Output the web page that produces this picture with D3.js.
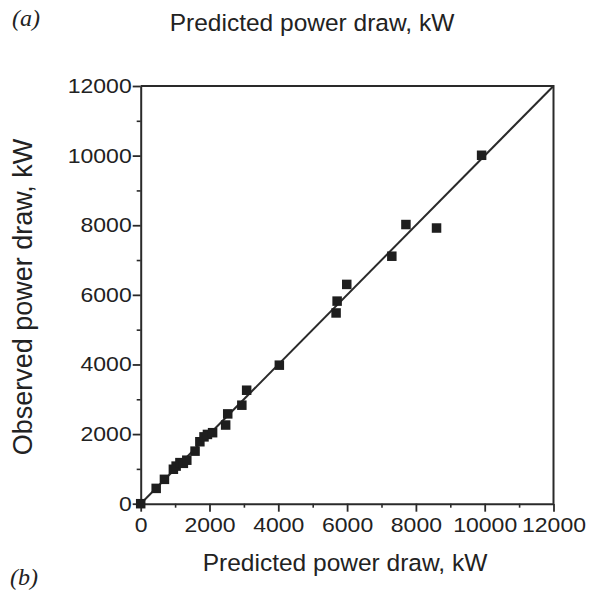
<!DOCTYPE html>
<html>
<head>
<meta charset="utf-8">
<script src="https://cdn.jsdelivr.net/npm/d3@7"></script>
<style>
  html, body { margin: 0; padding: 0; background: #fff; }
  svg { display: block; }
  text { font-family: "Liberation Sans", Arial, Helvetica, sans-serif; fill: #222; }
</style>
</head>
<body>
<svg id="chart" width="590" height="592"></svg>
<script>
// ---- data ----
const predicted = [0, 450, 690, 950, 1030, 1140, 1240, 1340, 1580, 1720, 1840, 1940, 2090, 2470, 2530, 2940, 3080, 4030, 5680, 5710, 5990, 7300, 7710, 8600, 9910];
const observed  = [0, 440, 700, 990, 1080, 1180, 1160, 1250, 1510, 1780, 1920, 1990, 2040, 2260, 2580, 2830, 3260, 3980, 5480, 5820, 6300, 7110, 8020, 7920, 10010];
const majorTicks = [0, 2000, 4000, 6000, 8000, 10000, 12000];
const minorTicks = [1000, 3000, 5000, 7000, 9000, 11000];
const xTitle = "Predicted power draw, kW";
const yTitle = "Observed power draw, kW";
const domainMax = 12000;

// ---- layout ----
const svg = d3.select("#chart");
const mLeft = 140.7, mTop = 86, mRight = 553.5, mBottom = 503.7;
const x = d3.scaleLinear().domain([0, domainMax]).range([mLeft, mRight]);
const y = d3.scaleLinear().domain([0, domainMax]).range([mBottom, mTop]);
const ink = "#2a2a2a";

// frame (top & right)
svg.append("path")
  .attr("d", `M${x(0)},${y(domainMax)}H${x(domainMax)}V${y(0)}`)
  .attr("fill", "none").attr("stroke", ink).attr("stroke-width", 2);

// minor ticks
svg.append("g").attr("transform", `translate(0,${mBottom})`)
  .call(d3.axisBottom(x).tickValues(minorTicks).tickSize(4).tickFormat(""))
  .call(g => g.select(".domain").remove())
  .call(g => g.selectAll("line").attr("stroke", ink).attr("stroke-width", 1.6));
svg.append("g").attr("transform", `translate(${mLeft},0)`)
  .call(d3.axisLeft(y).tickValues(minorTicks).tickSize(4).tickFormat(""))
  .call(g => g.select(".domain").remove())
  .call(g => g.selectAll("line").attr("stroke", ink).attr("stroke-width", 1.6));

// major axes
const xAxis = svg.append("g").attr("transform", `translate(0,${mBottom})`)
  .call(d3.axisBottom(x).tickValues(majorTicks).tickSize(8).tickSizeOuter(0).tickPadding(6).tickFormat(d3.format("d")));
const yAxis = svg.append("g").attr("transform", `translate(${mLeft},0)`)
  .call(d3.axisLeft(y).tickValues(majorTicks).tickSize(8).tickSizeOuter(0).tickPadding(1).tickFormat(d3.format("d")));

[xAxis, yAxis].forEach(g => {
  g.select(".domain").attr("stroke", ink).attr("stroke-width", 2);
  g.selectAll(".tick line").attr("stroke", ink).attr("stroke-width", 1.8);
  g.selectAll(".tick text").attr("font-size", 20).attr("fill", "#222")
    .style("font-family", "'Liberation Sans', Arial, sans-serif");
});
xAxis.selectAll(".tick text").attr("transform", "scale(1.15,1)");
yAxis.selectAll(".tick text").attr("x", 0).attr("transform", "translate(-9,0) scale(1.15,1)");

// identity line
svg.append("line")
  .attr("x1", x(0)).attr("y1", y(0))
  .attr("x2", x(domainMax)).attr("y2", y(domainMax))
  .attr("stroke", ink).attr("stroke-width", 2);

// points
const s = 9.5;
svg.append("g").selectAll("rect")
  .data(predicted.map((p, i) => [p, observed[i]]))
  .join("rect")
  .attr("x", d => x(d[0]) - s / 2)
  .attr("y", d => y(d[1]) - s / 2)
  .attr("width", s).attr("height", s)
  .attr("fill", "#1e1e1e");

// titles
svg.append("text").attr("x", 312).attr("y", 31).attr("text-anchor", "middle")
  .attr("font-size", 24.5).text(xTitle);
svg.append("text").attr("x", 345).attr("y", 571).attr("text-anchor", "middle")
  .attr("font-size", 24.5).text(xTitle);
svg.append("text").attr("transform", "translate(32,297) rotate(-90)").attr("text-anchor", "middle")
  .attr("font-size", 27).text(yTitle);

// panel labels
svg.append("text").attr("x", 12).attr("y", 26)
  .style("font-family", "'Liberation Serif', 'Times New Roman', serif").style("font-style", "italic")
  .attr("font-size", 24).text("(a)");
svg.append("text").attr("x", 10).attr("y", 585)
  .style("font-family", "'Liberation Serif', 'Times New Roman', serif").style("font-style", "italic")
  .attr("font-size", 24).text("(b)");
</script>
</body>
</html>
